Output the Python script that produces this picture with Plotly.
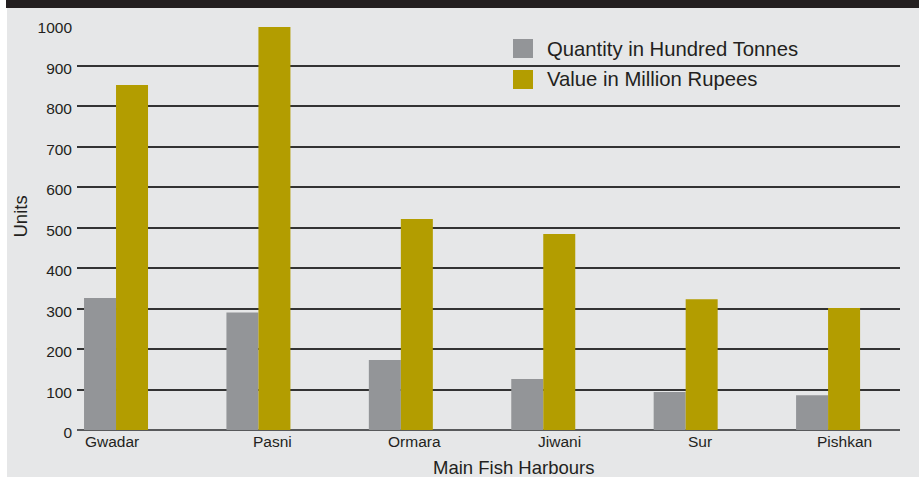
import plotly.graph_objects as go

harbours = ["Gwadar", "Pasni", "Ormara", "Jiwani", "Sur", "Pishkan"]
quantity_hundred_tonnes = [326, 290, 173, 126, 94, 86]
value_million_rupees = [852, 995, 521, 484, 323, 301]
y_ticks = [0, 100, 200, 300, 400, 500, 600, 700, 800, 900, 1000]
series_names = ["Quantity in Hundred Tonnes", "Value in Million Rupees"]

GRAY = "#939598"
GOLD = "#b39d00"
BG = "#e6e7e8"
TXT = "#231f20"
FONT = "Liberation Sans, Arial, Helvetica, sans-serif"

W, H = 919, 477
L, R, T, B = 77, 19, 25, 47
pw, ph = W - L - R, H - T - B


def px_x(p):
    return (p - L) / pw


def px_y(p):
    return (H - B - p) / ph


fig = go.Figure()
fig.add_trace(go.Bar(x=harbours, y=quantity_hundred_tonnes, name=series_names[0],
                     marker=dict(color=GRAY, line=dict(width=0)), showlegend=False))
fig.add_trace(go.Bar(x=harbours, y=value_million_rupees, name=series_names[1],
                     marker=dict(color=GOLD, line=dict(width=0)), showlegend=False))

shapes = [
    # white strip on the left
    dict(type="rect", xref="paper", yref="paper", x0=px_x(0), x1=px_x(7),
         y0=px_y(H), y1=px_y(0), fillcolor="white", line=dict(width=0), layer="above"),
    # black header band
    dict(type="rect", xref="paper", yref="paper", x0=px_x(6), x1=px_x(W),
         y0=px_y(8), y1=px_y(0), fillcolor="#231f20", line=dict(width=0), layer="above"),
    # legend swatches
    dict(type="rect", xref="paper", yref="paper", x0=px_x(513), x1=px_x(533),
         y0=px_y(58), y1=px_y(39), fillcolor=GRAY, line=dict(width=0), layer="above"),
    dict(type="rect", xref="paper", yref="paper", x0=px_x(513), x1=px_x(533),
         y0=px_y(89), y1=px_y(70), fillcolor=GOLD, line=dict(width=0), layer="above"),
]

annotations = [
    dict(text=series_names[0], xref="paper", yref="paper", x=px_x(545), y=px_y(48.5),
         xanchor="left", yanchor="middle", showarrow=False,
         font=dict(size=20.3, color=TXT, family=FONT)),
    dict(text=series_names[1], xref="paper", yref="paper", x=px_x(545), y=px_y(79.5),
         xanchor="left", yanchor="middle", showarrow=False,
         font=dict(size=20.3, color=TXT, family=FONT)),
    dict(text="Main Fish Harbours", xref="paper", yref="paper", x=px_x(513), y=px_y(467),
         xanchor="center", yanchor="middle", showarrow=False,
         font=dict(size=18.5, color=TXT, family=FONT)),
    dict(text="Units", xref="paper", yref="paper", x=px_x(19.5), y=px_y(217),
         xanchor="center", yanchor="middle", showarrow=False, textangle=-90,
         font=dict(size=18.5, color=TXT, family=FONT)),
]

label_shifts = [-4, 14, 14, 16, 14, 16]
for name, sh in zip(harbours, label_shifts):
    annotations.append(dict(text=name, x=name, xref="x", yref="paper", y=px_y(441),
                            xanchor="center", yanchor="middle", xshift=sh, showarrow=False,
                            font=dict(size=15.5, color=TXT, family=FONT)))

fig.update_layout(
    width=W, height=H,
    margin=dict(l=L, r=R, t=T, b=B, pad=0),
    paper_bgcolor=BG, plot_bgcolor=BG,
    barmode="group", bargap=0.5506, bargroupgap=0,
    font=dict(family=FONT, color=TXT, size=15.5),
    shapes=shapes, annotations=annotations,
    xaxis=dict(type="category", range=[-0.274, 5.505], showticklabels=False,
               showgrid=False, zeroline=False, showline=False, ticks=""),
    yaxis=dict(range=[0, 1000], tickvals=y_ticks, showgrid=True, gridcolor="#333333",
               gridwidth=1.5, zeroline=True, zerolinecolor="#58595b", zerolinewidth=2,
               showline=False, ticks="", ticklabelstandoff=4, ticklabelshift=3,
               tickfont=dict(size=15.5, color=TXT, family=FONT)),
)

fig.write_html(
    "out.html",
    config={"displayModeBar": False},
    post_script="document.body.style.margin='0';document.body.style.overflow='hidden';",
)
